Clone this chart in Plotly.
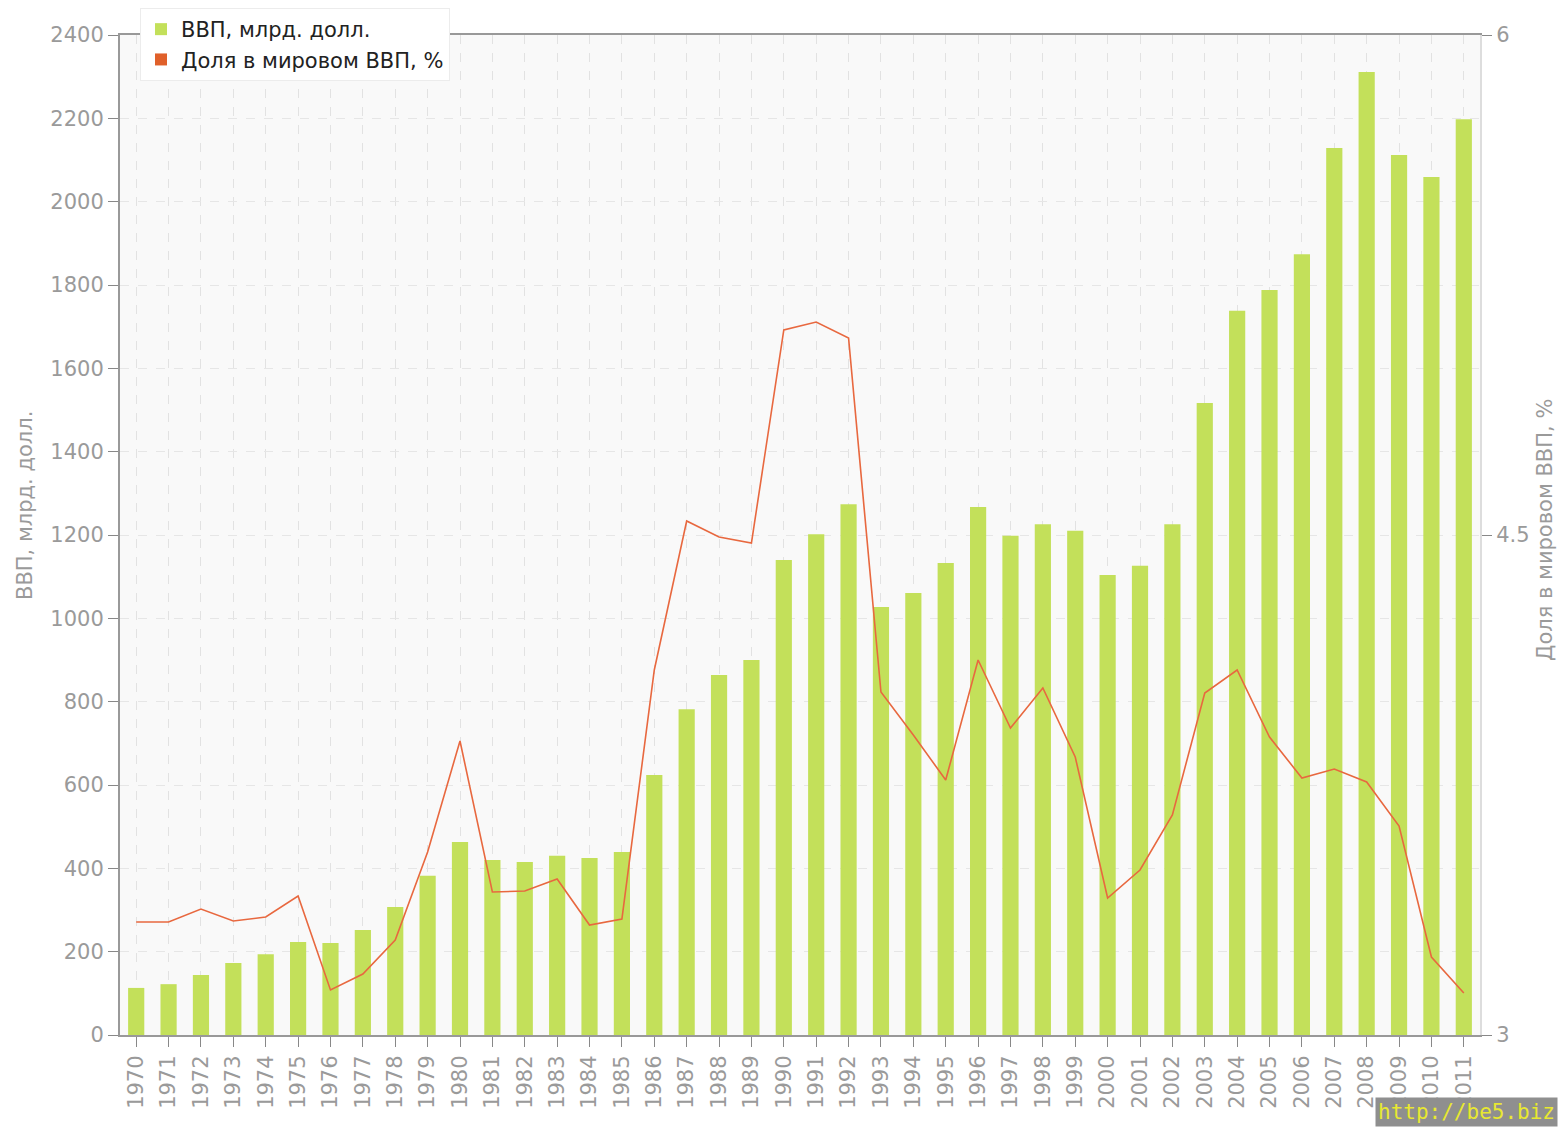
import plotly.graph_objects as go

years = [str(y) for y in range(1970, 2012)]
gdp = [113, 122, 144, 173, 194, 223, 221, 252, 307, 382,
       463, 420, 415, 430, 425, 439, 624, 782, 864, 900,
       1140, 1202, 1274, 1027, 1061, 1133, 1267, 1198, 1226, 1210,
       1104, 1126, 1226, 1517, 1738, 1788, 1874, 2129, 2311, 2112,
       2059, 2198]
share = [3.339, 3.339, 3.378, 3.342, 3.354, 3.417, 3.135, 3.183, 3.285, 3.549,
         3.882, 3.429, 3.432, 3.468, 3.330, 3.348, 4.095, 4.542, 4.494, 4.476,
         5.115, 5.139, 5.091, 4.029, 3.900, 3.765, 4.125, 3.921, 4.041, 3.834,
         3.411, 3.495, 3.660, 4.026, 4.095, 3.894, 3.771, 3.798, 3.759, 3.627,
         3.234, 3.126]

name_gdp = "ВВП, млрд. долл."
name_share = "Доля в мировом ВВП, %"
bar_color = "#c3e05a"
line_color = "#e8683f"
tick_font = dict(family="DejaVu Sans", size=21, color="#9a9a9a")
title_font = dict(family="DejaVu Sans", size=21, color="#9a9a9a")

# the page body has an 8px margin on each side, so the figure is made 16px smaller
W, H = 1550, 1119
L, R, T, B = 112, 78, 27, 92
PW, PH = W - L - R, H - T - B

fig = go.Figure()
fig.add_trace(go.Bar(x=years, y=gdp, name=name_gdp, marker_color=bar_color,
                     marker_line_width=0, width=0.5, yaxis="y"))
fig.add_trace(go.Scatter(x=years, y=share, name=name_share, mode="lines",
                         line=dict(color=line_color, width=1.6), yaxis="y2",
                         showlegend=False))
# legend entry with square marker for the line series
fig.add_trace(go.Scatter(x=[None], y=[None], name=name_share, mode="markers",
                         marker=dict(color="#e0602a", symbol="square", size=10),
                         yaxis="y2"))

# light dashed grid drawn over the bars
shapes = []
for yr in years:
    shapes.append(dict(type="line", xref="x", yref="paper", x0=yr, x1=yr, y0=0, y1=1,
                       line=dict(color="rgba(255,255,255,0.55)", width=1, dash="6px,6px"),
                       layer="above"))

fig.update_layout(
    width=W, height=H,
    margin=dict(l=L, r=R, t=T, b=B, autoexpand=False),
    paper_bgcolor="white",
    plot_bgcolor="#f9f9f9",
    bargap=0.5,
    shapes=shapes,
    showlegend=True,
    legend=dict(x=(140 - 8) / W, y=1.0, xref="container", yref="container",
                xanchor="left", yanchor="top",
                bgcolor="white", bordercolor="#ececec", borderwidth=1,
                font=dict(family="DejaVu Sans", size=21, color="#222"),
                itemsizing="constant", tracegroupgap=0),
    xaxis=dict(type="category", tickangle=-90, tickfont=tick_font,
               showgrid=True, gridcolor="#e2e2e2", griddash="dash",
               ticks="outside", ticklen=10, tickcolor="#888",
               showline=True, linecolor="#999", linewidth=2, mirror=True,
               range=[-0.5, 41.5]),
    yaxis=dict(range=[0, 2400], dtick=200, tickfont=tick_font,
               showgrid=True, gridcolor="#e6e6e6", griddash="dash",
               ticks="outside", ticklen=10, tickcolor="#888",
               showline=True, linecolor="#999", linewidth=2, zeroline=False),
    yaxis2=dict(range=[3, 6], overlaying="y", side="right",
                tickvals=[3, 4.5, 6], ticktext=["3", "4.5", "6"], tickfont=tick_font,
                showgrid=False, ticks="outside", ticklen=10, tickcolor="#888",
                showline=True, linecolor="#ddd", linewidth=2, zeroline=False),
    annotations=[
        dict(text=name_gdp, xref="paper", yref="paper",
             x=(17 - L) / PW, y=(T + PH - 498) / PH, textangle=-90,
             xanchor="center", yanchor="middle", showarrow=False, font=title_font),
        dict(text=name_share, xref="paper", yref="paper",
             x=(1537 - L) / PW, y=(T + PH - 522) / PH, textangle=-90,
             xanchor="center", yanchor="middle", showarrow=False, font=title_font),
        dict(text="http://be5.biz", xref="paper", yref="paper",
             x=(W - L) / PW, y=-B / PH,
             xanchor="right", yanchor="bottom", showarrow=False,
             font=dict(family="DejaVu Sans Mono", size=21, color="#e8e830"),
             bgcolor="#8f8f8f", borderpad=2),
    ],
)

fig.write_html("out.html")
